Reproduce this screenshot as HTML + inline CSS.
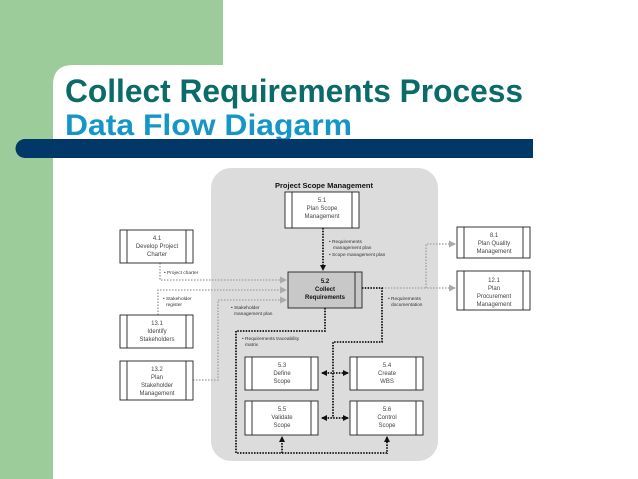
<!DOCTYPE html>
<html><head><meta charset="utf-8"><style>
html,body{margin:0;padding:0;width:638px;height:479px;overflow:hidden;background:#fff;font-family:"Liberation Sans",sans-serif}
</style></head><body>
<svg width="638" height="479" viewBox="0 0 638 479" xmlns="http://www.w3.org/2000/svg" font-family="Liberation Sans, sans-serif">
<defs>
<marker id="ab" markerWidth="6" markerHeight="6" refX="5" refY="3" orient="auto" markerUnits="userSpaceOnUse"><path d="M0,0 L6,3 L0,6 z" fill="#111"/></marker>
<marker id="ag" markerWidth="7" markerHeight="7" refX="6" refY="3.5" orient="auto" markerUnits="userSpaceOnUse"><path d="M0,0 L7,3.5 L0,7 z" fill="#aaa"/></marker>
<marker id="abs" markerWidth="6" markerHeight="6" refX="1" refY="3" orient="auto" markerUnits="userSpaceOnUse"><path d="M6,0 L0,3 L6,6 z" fill="#111"/></marker>
</defs>
<rect x="0" y="0" width="223" height="479" fill="#9dcc9b"/>
<path d="M53,479 L53,85 Q53,65 73,65 L638,65 L638,479 z" fill="#fff"/>
<rect x="223" y="0" width="415" height="65" fill="#fff"/>
<text x="65" y="102" font-size="32" font-weight="bold" fill="#0b6b68" textLength="458" lengthAdjust="spacingAndGlyphs">Collect Requirements Process</text>
<text x="65" y="135" font-size="30" font-weight="bold" fill="#1596c8" textLength="287" lengthAdjust="spacingAndGlyphs">Data Flow Diagarm</text>
<path d="M25,139 L533,139 L533,158 L25,158 A9.5,9.5 0 0 1 25,139 z" fill="#023867"/>
<rect x="211" y="168" width="227" height="293" rx="20" fill="#dcdcdc"/>
<text x="324" y="188" font-size="7.5" font-weight="bold" text-anchor="middle" fill="#111">Project Scope Management</text>
<g stroke="#aaa" stroke-width="1.6" stroke-dasharray="1.5,1.5" fill="none">
<path d="M160,263 L160,280 L286,280" marker-end="url(#ag)"/>
<path d="M158,315 L158,290 L286,290" marker-end="url(#ag)"/>
<path d="M193,380 L218,380 L218,300 L286,300" marker-end="url(#ag)"/>
<path d="M382,288 L455,288" marker-end="url(#ag)"/>
<path d="M426,288 L426,244 L455,244" marker-end="url(#ag)"/>
</g>
<g stroke="#111" stroke-width="1.8" stroke-dasharray="1.5,1.3" fill="none">
<path d="M323,228 L323,270" marker-end="url(#ab)"/>
<path d="M362,288 L382,288 L382,342 L333,342 L333,418"/>
<path d="M322,373 L348,373" marker-end="url(#ab)" marker-start="url(#abs)"/>
<path d="M322,418 L348,418" marker-end="url(#ab)" marker-start="url(#abs)"/>
<path d="M325,308 L325,331 L236,331 L236,453 L387,453 L387,437" marker-end="url(#ab)"/>
<path d="M282,453 L282,437" marker-end="url(#ab)"/>
</g>
<g font-size="4.8" fill="#333">
<text x="329" y="243">• Requirements</text><text x="333" y="249">management plan</text>
<text x="329" y="256">• Scope management plan</text>
<text x="164" y="274">• Project charter</text>
<text x="163" y="300">• Stakeholder</text><text x="166" y="306">register</text>
<text x="231" y="309">• Stakeholder</text><text x="234" y="315">management plan</text>
<text x="388" y="300">• Requirements</text><text x="391" y="306">documentation</text>
<text x="242" y="340">• Requirements traceability</text><text x="245" y="346">matrix</text>
</g>
<g stroke="#222" stroke-width="0.9" fill="#fff">
<rect x="285" y="192" width="74" height="36"/>
<rect x="120" y="230" width="73" height="33"/>
<rect x="288" y="272" width="74" height="36" fill="#c8c8c8"/>
<rect x="457" y="227" width="73" height="31"/>
<rect x="457" y="271" width="73" height="39"/>
<rect x="120" y="315" width="73" height="33"/>
<rect x="120" y="361" width="73" height="39"/>
<rect x="245" y="357" width="73" height="33"/>
<rect x="350" y="357" width="73" height="33"/>
<rect x="245" y="401" width="73" height="34"/>
<rect x="350" y="401" width="73" height="34"/>
</g>
<g stroke="#222" stroke-width="0.9">
<path d="M292,192v36M352,192v36M127,230v33M186,230v33M355,272v36M464,227v31M523,227v31M464,271v39M523,271v39M127,315v33M186,315v33M127,361v39M186,361v39M252,357v33M311,357v33M357,357v33M416,357v33M252,401v34M311,401v34M357,401v34M416,401v34"/>
</g>
<g font-size="6" fill="#444" text-anchor="middle">
<text x="322" y="202">5.1</text><text x="322" y="210">Plan Scope</text><text x="322" y="218">Management</text>
<text x="157" y="240">4.1</text><text x="157" y="248">Develop Project</text><text x="157" y="256">Charter</text>
<text x="325" y="283" font-weight="bold" fill="#111">5.2</text><text x="325" y="291" font-weight="bold" fill="#111">Collect</text><text x="325" y="299" font-weight="bold" fill="#111">Requirements</text>
<text x="494" y="237">8.1</text><text x="494" y="245">Plan Quality</text><text x="494" y="253">Management</text>
<text x="494" y="282">12.1</text><text x="494" y="290">Plan</text><text x="494" y="298">Procurement</text><text x="494" y="306">Management</text>
<text x="157" y="325">13.1</text><text x="157" y="333">Identify</text><text x="157" y="341">Stakeholders</text>
<text x="157" y="371">13.2</text><text x="157" y="379">Plan</text><text x="157" y="387">Stakeholder</text><text x="157" y="395">Management</text>
<text x="282" y="367">5.3</text><text x="282" y="375">Define</text><text x="282" y="383">Scope</text>
<text x="387" y="367">5.4</text><text x="387" y="375">Create</text><text x="387" y="383">WBS</text>
<text x="282" y="411">5.5</text><text x="282" y="419">Validate</text><text x="282" y="427">Scope</text>
<text x="387" y="411">5.6</text><text x="387" y="419">Control</text><text x="387" y="427">Scope</text>
</g>
</svg>
</body></html>
